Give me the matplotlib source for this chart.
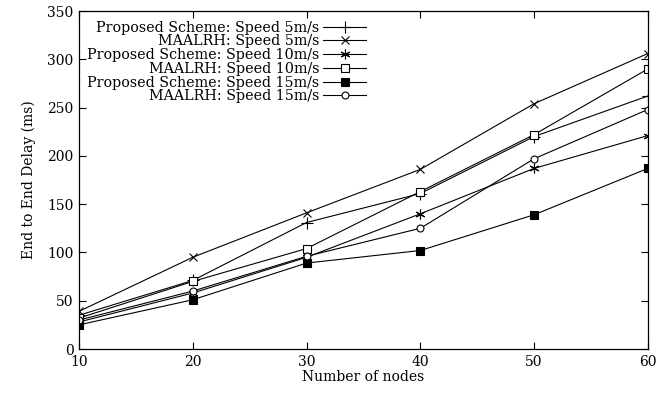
import matplotlib
matplotlib.use("Agg")
import matplotlib.pyplot as plt

nodes = [10, 20, 30, 40, 50, 60]

# end to end delay (ms)
prop_5 = [35, 71, 131, 161, 220, 262]
maalrh_5 = [39, 95, 141, 186, 254, 306]
prop_10 = [28, 58, 95, 140, 187, 221]
maalrh_10 = [32, 70, 104, 163, 222, 290]
prop_15 = [25, 51, 89, 102, 139, 187]
maalrh_15 = [30, 60, 96, 125, 197, 248]

labels = ["Proposed Scheme: Speed 5m/s", "MAALRH: Speed 5m/s",
          "Proposed Scheme: Speed 10m/s", "MAALRH: Speed 10m/s",
          "Proposed Scheme: Speed 15m/s", "MAALRH: Speed 15m/s"]

plt.rcParams['font.family'] = ['DejaVu Serif']

fig = plt.figure(figsize=(6.72, 3.94), dpi=100)
ax = fig.add_axes([0.1176, 0.1142, 0.8464, 0.8578])

series = [prop_5, maalrh_5, prop_10, maalrh_10, prop_15, maalrh_15]
markers = ['+', 'x', (6, 2, 0), 's', 's', 'o']
faces = ['k', 'k', 'k', 'white', 'k', 'white']
sizes = [8, 6, 7, 5.5, 5.5, 5]

for vals, lab, m, fc, ms in zip(series, labels, markers, faces, sizes):
    ax.plot(nodes, vals, color='k', lw=0.8, marker=m, ms=ms,
            mfc=fc, mec='k', mew=0.8, label=lab)

ax.set_xlim(10, 60)
ax.set_ylim(0, 350)
ax.set_xticks(nodes)
ax.set_yticks(range(0, 351, 50))
ax.tick_params(direction='in', top=True, right=True, length=5,
               labelsize=10, pad=4)
for s in ax.spines.values():
    s.set_linewidth(0.9)

ax.set_xlabel("Number of nodes", fontsize=10, labelpad=1)
ax.set_ylabel("End to End Delay (ms)", fontsize=10, labelpad=8)

ax.legend(loc='upper right', bbox_to_anchor=(0.51, 0.98), frameon=False,
          markerfirst=False, fontsize=10.3, labelspacing=-0.02,
          handlelength=3.0, handletextpad=0.3, borderpad=0.2,
          borderaxespad=0)

fig.savefig("out.png", dpi=100)
